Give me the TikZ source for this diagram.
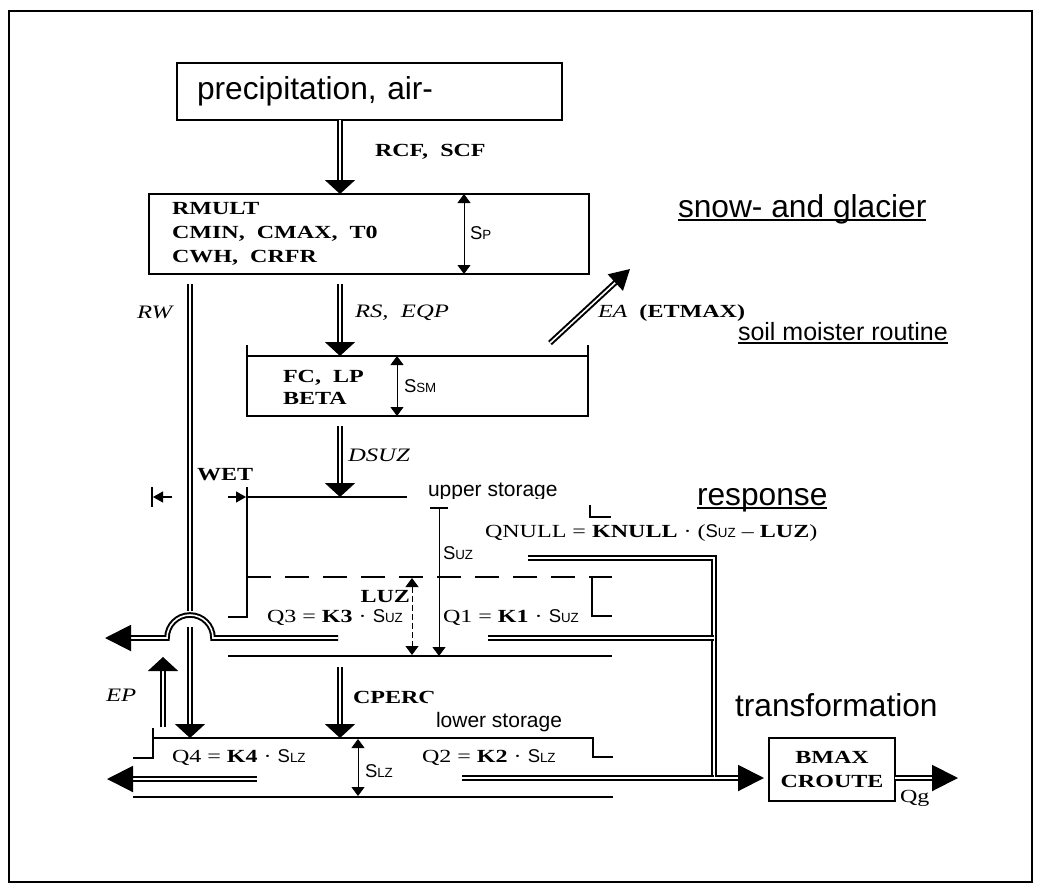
\documentclass[tikz,border=0pt]{standalone}
\usepackage{fontspec}
\usepackage{graphicx}
\setmainfont{Liberation Serif}[FakeStretch=1.3]
\setsansfont{Liberation Sans}
\newfontfamily\labelfont{Liberation Sans}
\usetikzlibrary{arrows.meta}
\newcommand{\stor}[1]{{\sffamily S\scalebox{0.72}{#1}}}

\begin{document}
\begin{tikzpicture}[x=1pt, y=-1pt,
    every node/.style={inner sep=0pt, outer sep=0pt},
    parbox/.style={draw, line width=2pt, anchor=north west},
    param/.style={font=\bfseries\fontsize{18.5}{24}\selectfont},
    flux/.style={font=\itshape\fontsize{19}{22}\selectfont, anchor=west},
    formula/.style={font=\fontsize{18.5}{22}\selectfont, anchor=west},
    heading/.style={font=\labelfont\fontsize{31.7}{36}\selectfont, anchor=base west},
    boxtext/.style={font=\labelfont\fontsize{21}{24}\selectfont, anchor=base west},
    wall/.style={line width=2.2pt},
    pipe/.style={double, double distance=1.6pt, line width=2pt},
    flow/.style={pipe, -{Triangle[width=30pt,length=14pt]}},
    outflow/.style={pipe, -{Triangle[width=26pt,length=26pt]}},
    level/.style={line width=0.9pt, {Triangle[width=13pt,length=9pt]}-{Triangle[width=13pt,length=9pt]}}]

  \useasboundingbox (0,0) rectangle (1041,894);
  \draw[line width=1.2pt] (9,11) rectangle (1032,882);

  \coordinate (colA) at (340,0);
  \coordinate (colRW) at (190,0);
  \coordinate (colSp) at (464,0);
  \coordinate (colSm) at (397,0);
  \coordinate (upperTop) at (247,497);
  \coordinate (upperBot) at (228,656);
  \coordinate (lowerTop) at (153,738);
  \coordinate (lowerBot) at (133,797);
  \coordinate (outY) at (0,778);
  \coordinate (qgEnd) at (958,778);

  % input and snow routine
  \node[parbox, minimum width=385pt, minimum height=57pt, text width=345pt, inner xsep=20pt, align=left,
        font=\labelfont\fontsize{31.7}{36}\selectfont] (precip) at (177,63) {precipitation, air-};
  \node[parbox, line width=2.4pt, minimum width=440pt, minimum height=80pt] (snow) at (149,194) {};
  \node[param, anchor=west, align=left] (snowpar) at (172,234) {RMULT\\CMIN,\ \ CMAX,\ \ T0\\CWH,\ \ CRFR};
  \draw[level] (snow.north -| colSp) -- (snow.south -| colSp);
  \node[formula] (sp) at (470,233) {\stor{P}};
  \draw[flow] (precip.south -| colA) -- (snow.north -| colA);
  \node[param, anchor=west] (rcf) at (375,152) {RCF,\ \ SCF};
  \node[heading] (snowlbl) at (678,217) {snow- and glacier};
  \draw[line width=2pt] ([yshift=-3pt]snowlbl.base west) -- ([yshift=-3pt]snowlbl.base east);

  % soil moisture
  \node[parbox, minimum width=341pt, minimum height=60pt] (soil) at (247,356) {};
  \draw[wall] (soil.north west) -- ++(0,-11);
  \draw[wall] (soil.north east) -- ++(0,-11);
  \node[param, anchor=west, align=left, font=\bfseries\fontsize{18.5}{22}\selectfont] (soilpar) at (283,387) {FC,\ \ LP\\BETA};
  \draw[level] (soil.north -| colSm) -- (soil.south -| colSm);
  \node[formula] (ssm) at (404,386) {\stor{SM}};
  \draw[flow, shorten <=10pt] (snow.south -| colA) -- (soil.north -| colA);
  \node[flux] (rs) at (355,313) {RS,\ \ EQP};
  \coordinate (eaTail) at (550,343);
  \coordinate (eaTip) at (630,269);
  \draw[flow, -{Triangle[width=22pt,length=20pt]}] (eaTail) -- (eaTip);
  \node[formula] (ea) at (598,313) {\textit{EA}\ \ \textbf{(ETMAX)}};
  \node[heading, font=\labelfont\fontsize{25}{30}\selectfont] (soillbl) at (738,340) {soil moister routine};
  \draw[line width=1.8pt] ([yshift=-3pt]soillbl.base west) -- ([yshift=-3pt]soillbl.base east);

  % refreezing water path
  \draw[pipe] (snow.south -| colRW) ++(0,10) -- (190,611);
  \draw[flow] (190,627) -- (colRW |- lowerTop);
  \node[flux] (rw) at (137,312) {RW};

  % upper storage
  \draw[flow, shorten <=10pt] (soil.south -| colA) -- (colA |- upperTop);
  \node[flux] (dsuz) at (348,455) {DSUZ};
  \draw[wall] (247,487) -- (247,617) -- (228,617);
  \draw[wall] (upperTop) -- (407,497);
  \draw[line width=1.6pt, dash pattern=on 24pt off 14pt] (247,577) -- (612,577);
  \draw[wall] (590,505) -- (590,517) -- (611,517);
  \draw[wall] (592,577) -- (592,616) -- (612,616);
  \draw[wall] (upperBot) -- (612,656);
  \draw[line width=1.2pt] (152,487) -- (152,507);
  \draw[line width=1.2pt, -{Triangle[width=11pt,length=10pt]}] (172,497) -- (153,497);
  \draw[line width=1.2pt, -{Triangle[width=11pt,length=10pt]}] (228,497) -- (246,497);
  \node[param, anchor=west] (wet) at (197,475) {WET};
  \begin{scope}
    \clip (420,470) rectangle (570,498);
    \node[boxtext] (upperlbl) at (428,496) {upper storage};
  \end{scope}
  \draw[line width=0.9pt, {Bar[width=18pt,line width=2pt]}-{Triangle[width=13pt,length=9pt]}] (439,507) -- (439,656);
  \node[formula] (suz) at (443,553) {\stor{UZ}};
  \draw[level, dash pattern=on 6pt off 3pt] (412,578) -- (412,655);
  \node[param, anchor=east] (luz) at (410,597) {LUZ};
  \node[formula] (q3) at (267,618) {Q3 = \textbf{K3} · \stor{UZ}};
  \node[formula] (q1) at (443,618) {Q1 = \textbf{K1} · \stor{UZ}};
  \node[formula] (qnull) at (485,533) {QNULL = \textbf{KNULL} · (\stor{UZ} – \textbf{LUZ})};
  \node[heading] (resplbl) at (697,505) {response};
  \draw[line width=2pt] ([yshift=-3pt]resplbl.base west) -- ([yshift=-3pt]resplbl.base east);
  \draw[outflow] (338,638) -- (213,638) arc[start angle=0, end angle=180, radius=23pt] -- (105,638);

  % lower storage
  \node[param, anchor=west] (cperc) at (353,697) {CPERC};
  \node[boxtext, fill=white, inner xsep=8pt, inner ysep=14pt] (lowerlbl) at (428,727) {lower storage};
  \draw[flow, shorten <=11pt] (colA |- upperBot) -- (colA |- lowerTop);
  \draw[flow] (163,727) -- (163,657);
  \node[flux] (ep) at (106,695) {EP};
  \draw[wall] (153,728) -- (153,758) -- (133,758);
  \draw[wall] (lowerTop) -- (593,738) -- (593,757) -- (613,757);
  \draw[wall] (lowerBot) -- (613,797);
  \draw[level] (358,739) -- (358,796);
  \node[formula] (slz) at (365,771) {\stor{LZ}};
  \node[formula] (q4) at (172,758) {Q4 = \textbf{K4} · \stor{LZ}};
  \node[formula] (q2) at (422,758) {Q2 = \textbf{K2} · \stor{LZ}};
  \draw[outflow] (257,779) -- (107,779);

  % transformation
  \node[heading] (translbl) at (735,716) {transformation};
  \node[parbox, line width=1.5pt, minimum width=126pt, minimum height=63pt, align=center,
        font=\bfseries\fontsize{18.5}{24}\selectfont] (bmax) at (769,738) {BMAX\\CROUTE};
  \draw[outflow] (528,558) -- (714,558) -- (714,778) -- ([xshift=-5pt]bmax.west |- outY);
  \draw[pipe] (488,638) -- (714,638);
  \draw[pipe] (462,778) -- (714,778);
  \draw[outflow] (bmax.east |- outY) -- (qgEnd);
  \node[formula] (qg) at (900,798) {Qg};
\end{tikzpicture}
\end{document}
